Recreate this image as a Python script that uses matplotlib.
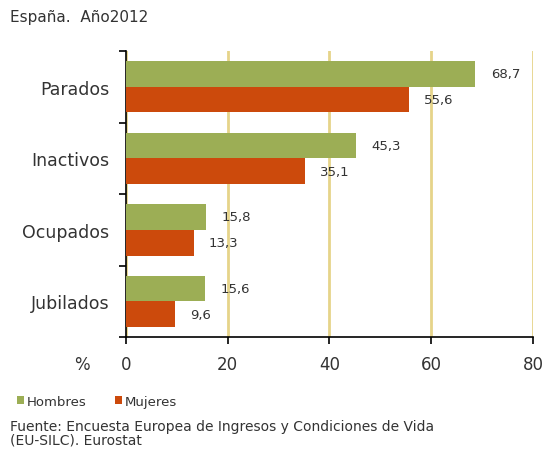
import numpy as np
import matplotlib.pyplot as plt

# data
categories = ['Parados', 'Inactivos', 'Ocupados', 'Jubilados']
hombres = [68.7, 45.3, 15.8, 15.6]
mujeres = [55.6, 35.1, 13.3, 9.6]
x_ticks = [0, 20, 40, 60, 80]

green = '#9cae55'
red = '#cc4a0c'
grid_col = '#e6d48a'
text_col = '#333333'

plt.rcParams['font.family'] = 'DejaVu Sans'

fig = plt.figure(figsize=(5.47, 4.52), dpi=100)
ax = fig.add_axes([0.2303, 0.252, 0.744, 0.633])

y = np.arange(len(categories))
h = 0.36
ax.barh(y - h / 2, hombres, height=h, color=green, zorder=3, label='Hombres')
ax.barh(y + h / 2, mujeres, height=h, color=red, zorder=3, label='Mujeres')

for yi, v in zip(y - h / 2, hombres):
    ax.annotate(f'{v:.1f}'.replace('.', ','), (v, yi), xytext=(11, 0),
                textcoords='offset points', va='center', ha='left',
                fontsize=9.5, color=text_col)
for yi, v in zip(y + h / 2, mujeres):
    ax.annotate(f'{v:.1f}'.replace('.', ','), (v, yi), xytext=(11, 0),
                textcoords='offset points', va='center', ha='left',
                fontsize=9.5, color=text_col)

ax.set_xlim(0, 80)
ax.set_ylim(len(categories) - 0.5, -0.5)
ax.set_xticks(x_ticks)
ax.set_xticklabels([str(t) for t in x_ticks], fontsize=12, color=text_col)
ax.tick_params(axis='x', length=5, width=1.2, pad=8)

# category labels centred, ticks at group boundaries
ax.set_yticks(y)
ax.set_yticklabels(categories, fontsize=12.5, color=text_col)
ax.tick_params(axis='y', which='major', length=0, pad=12)
ax.set_yticks(np.arange(-0.5, len(categories), 1), minor=True)
ax.tick_params(axis='y', which='minor', length=5, width=1.2)

ax.xaxis.grid(True, color=grid_col, linewidth=2, zorder=0)
for s in ['top', 'right']:
    ax.spines[s].set_visible(False)
ax.spines['left'].set_linewidth(1.2)
ax.spines['bottom'].set_linewidth(1.2)

fig.text(0.135, 0.193, '%', fontsize=12, color=text_col, ha='left', va='center')
fig.text(0.018, 0.962, 'España.  Año2012', fontsize=11, color=text_col,
         ha='left', va='center')

fig.legend(loc='center left', bbox_to_anchor=(0.01, 0.11), ncol=2, frameon=False,
           fontsize=9.5, handlelength=0.5, handleheight=0.5, handletextpad=0.2,
           columnspacing=2.2, labelcolor=text_col)

fig.text(0.018, 0.04, 'Fuente: Encuesta Europea de Ingresos y Condiciones de Vida\n(EU-SILC). Eurostat',
         fontsize=10, color=text_col, ha='left', va='center', linespacing=0.95)

plt.savefig('out.png', dpi=100)
